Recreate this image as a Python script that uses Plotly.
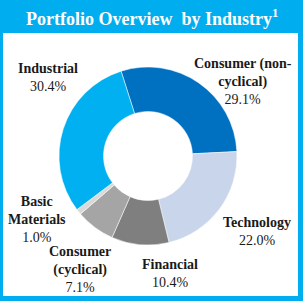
import plotly.graph_objects as go

categories = ["Consumer (non-cyclical)", "Technology", "Financial", "Consumer (cyclical)", "Basic Materials", "Industrial"]
values = [29.1, 22.0, 10.4, 7.1, 1.0, 30.4]
colors = ["#0070C0", "#C9D5EA", "#7F7F7F", "#A5A5A5", "#D9D9D9", "#00B0F0"]
label_lines = [["Consumer (non-", "cyclical)"], ["Technology"], ["Financial"], ["Consumer", "(cyclical)"], ["Basic", "Materials"], ["Industrial"]]
# label anchor positions in pixels (x, y of first line center)
label_pos = [(243, 65), (257, 223), (170, 265), (80, 253), (37, 203), (48, 69)]

W, H = 303, 301
cx, cy, r = 148, 156, 89

fig = go.Figure()
fig.add_trace(go.Pie(
    labels=categories, values=values, sort=False, direction="clockwise",
    rotation=-17.6, hole=0.5,
    marker=dict(colors=colors, line=dict(color="white", width=0.5)),
    textinfo="none", hoverinfo="label+percent", showlegend=False,
    domain=dict(x=[(cx - r) / W, (cx + r) / W], y=[(H - cy - r) / H, (H - cy + r) / H]),
))

font_serif = "Liberation Serif, Times New Roman, serif"
annotations = []
for lines, val, (px, py) in zip(label_lines, values, label_pos):
    txt = "<br>".join("<b>%s</b>" % l for l in lines) + "<br>%.1f%%" % val
    n = len(lines) + 1
    lh = 16.2
    ymid = py + (n - 1) * lh / 2
    annotations.append(dict(
        x=px / W, y=1 - ymid / H, xref="paper", yref="paper",
        text=txt, showarrow=False, align="center",
        font=dict(family=font_serif, size=14, color="#1a1a1a"),
        xanchor="center", yanchor="middle",
    ))

annotations.append(dict(
    x=0.5, y=1 - 18 / H, xref="paper", yref="paper",
    text="<b>Portfolio Overview  by Industry<sup>1</sup></b>", showarrow=False,
    font=dict(family=font_serif, size=18, color="white"),
    xanchor="center", yanchor="middle",
))

fig.update_layout(
    width=W, height=H, margin=dict(l=0, r=0, t=0, b=0),
    paper_bgcolor="#00AEEF", plot_bgcolor="white",
    shapes=[dict(type="rect", xref="paper", yref="paper",
                 x0=3 / W, x1=298 / W, y0=1 - 296 / H, y1=1 - 33 / H,
                 fillcolor="white", line=dict(width=0), layer="below")],
    annotations=annotations,
)

fig.write_html("out.html")
